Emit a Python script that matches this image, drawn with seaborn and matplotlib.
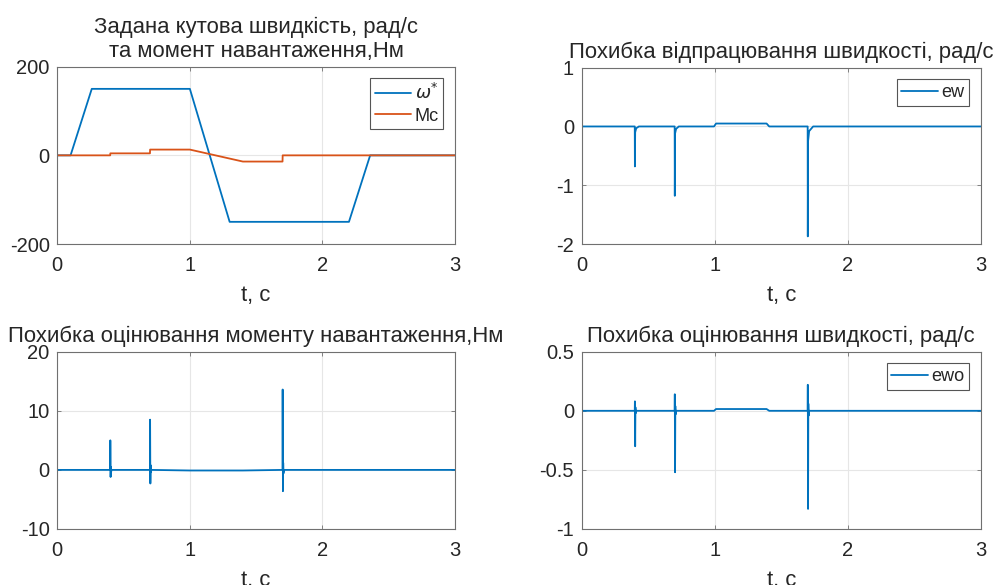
import numpy as np
import pandas as pd
import seaborn as sns
import matplotlib
matplotlib.use("Agg")
import matplotlib.pyplot as plt

# ---------------- data ----------------
# reference speed omega*
t_w = [0.0, 0.10, 0.26, 1.00, 1.30, 2.20, 2.36, 3.0]
w_ref = [0.0, 0.0, 150.0, 150.0, -150.0, -150.0, 0.0, 0.0]

# load torque Mc
t_mc = [0.0, 0.399, 0.40, 0.699, 0.70, 1.00, 1.40, 1.699, 1.70, 3.0]
mc = [0.0, 0.0, 4.5, 4.5, 13.0, 13.0, -14.0, -14.0, 0.0, 0.0]

# speed tracking error ew
t_ew = [0.0, 0.399, 0.400, 0.402, 0.41, 0.43, 0.699, 0.700, 0.702, 0.71, 0.73,
        0.995, 1.01, 1.39, 1.41, 1.699, 1.700, 1.702, 1.71, 1.74, 3.0]
ew = [0.0, 0.0, -0.68, -0.10, -0.03, 0.0, 0.0, -1.18, -0.12, -0.04, 0.0,
      0.0, 0.05, 0.05, 0.0, 0.0, -1.87, -0.25, -0.08, 0.0, 0.0]

# load torque estimation error
t_em = [0.0, 0.399, 0.400, 0.402, 0.404, 0.406, 0.41, 0.699, 0.700, 0.702, 0.704,
        0.706, 0.71, 1.0, 1.4, 1.699, 1.700, 1.702, 1.704, 1.706, 1.71, 3.0]
em = [0.0, 0.0, 5.0, -1.2, 0.5, -0.3, 0.0, 0.0, 8.5, -2.3, 0.8, -0.4, 0.0,
      -0.1, -0.1, 0.0, 13.6, -3.6, 1.2, -0.6, 0.0, 0.0]

# speed estimation error ewo
t_ewo = [0.0, 0.399, 0.400, 0.402, 0.404, 0.406, 0.41, 0.699, 0.700, 0.702, 0.704,
         0.706, 0.71, 0.995, 1.01, 1.39, 1.41, 1.699, 1.700, 1.702, 1.704,
         1.706, 1.71, 3.0]
ewo = [0.0, 0.0, 0.08, -0.30, 0.03, -0.02, 0.0, 0.0, 0.14, -0.52, 0.04, -0.03,
       0.0, 0.0, 0.015, 0.015, 0.0, 0.0, 0.22, -0.83, 0.06, -0.04, 0.0, 0.0]

titles = ["Задана кутова швидкість, рад/с\nта момент навантаження,Нм",
          "Похибка відпрацювання швидкості, рад/с",
          "Похибка оцінювання моменту навантаження,Нм",
          "Похибка оцінювання швидкості, рад/с"]
xlabel = "t, с"

# ---------------- style ----------------
sns.set_theme(style="white")
plt.rcParams['font.family'] = ['Liberation Sans', 'DejaVu Sans']
plt.rcParams['mathtext.fontset'] = 'dejavusans'

BLUE = "#0072BD"
ORANGE = "#D95319"
TXT = "#262626"
EDGE = "#707070"
FS = 14.5

fig = plt.figure(figsize=(9.93, 5.85), dpi=100)
W, H = 993.0, 585.0

def make_ax(x0, x1, y0, y1):
    return fig.add_axes([x0 / W, 1 - y1 / H, (x1 - x0) / W, (y1 - y0) / H])

ax1 = make_ax(57.3, 455.0, 66.7, 244.0)
ax2 = make_ax(581.7, 980.7, 67.7, 244.0)
ax3 = make_ax(57.3, 455.0, 351.7, 529.0)
ax4 = make_ax(581.7, 980.7, 351.7, 529.0)

def style(ax, ylim, yticks, title):
    ax.set_xlim(0, 3)
    ax.set_ylim(*ylim)
    ax.set_xticks([0, 1, 2, 3])
    ax.set_xticklabels(["0", "1", "2", "3"])
    ax.set_yticks(yticks)
    ax.set_yticklabels([("%g" % v) for v in yticks])
    ax.grid(True, color="#e6e6e6", linewidth=0.8)
    ax.set_axisbelow(True)
    for s in ax.spines.values():
        s.set_color(EDGE)
        s.set_linewidth(0.8)
        s.set_visible(True)
    ax.tick_params(axis="both", direction="in", length=3, width=0.6,
                   color=EDGE, labelsize=FS, labelcolor=TXT,
                   top=True, right=True, bottom=True, left=True)
    ax.tick_params(axis="x", pad=8.5)
    ax.tick_params(axis="y", pad=5.5)
    ax.set_xlabel(xlabel, fontsize=FS * 1.1, color=TXT, labelpad=7)
    ax.set_ylabel("")
    ax.set_title(title, fontsize=FS * 1.1, color=TXT, pad=7, linespacing=1.2)

def leg(ax):
    lg = ax.legend(loc="upper right", fontsize=FS * 0.9, frameon=True, fancybox=False,
                   framealpha=1, edgecolor="#555555", borderpad=0.25,
                   handlelength=2.0, handletextpad=0.2, labelspacing=0.25,
                   borderaxespad=0.65)
    lg.get_frame().set_linewidth(0.8)
    for t in lg.get_texts():
        t.set_color(TXT)

d1 = pd.DataFrame({"t": t_w, "v": w_ref})
d1b = pd.DataFrame({"t": t_mc, "v": mc})
sns.lineplot(data=d1, x="t", y="v", ax=ax1, color=BLUE, lw=1.3,
             estimator=None, sort=False, label=r"$\omega^{*}$")
sns.lineplot(data=d1b, x="t", y="v", ax=ax1, color=ORANGE, lw=1.3,
             estimator=None, sort=False, label="Mc")
style(ax1, (-200, 200), [-200, 0, 200], titles[0])
leg(ax1)

d2 = pd.DataFrame({"t": t_ew, "v": ew})
sns.lineplot(data=d2, x="t", y="v", ax=ax2, color=BLUE, lw=1.3,
             estimator=None, sort=False, label="ew")
style(ax2, (-2, 1), [-2, -1, 0, 1], titles[1])
leg(ax2)

d3 = pd.DataFrame({"t": t_em, "v": em})
sns.lineplot(data=d3, x="t", y="v", ax=ax3, color=BLUE, lw=1.3,
             estimator=None, sort=False, legend=False)
style(ax3, (-10, 20), [-10, 0, 10, 20], titles[2])

d4 = pd.DataFrame({"t": t_ewo, "v": ewo})
sns.lineplot(data=d4, x="t", y="v", ax=ax4, color=BLUE, lw=1.3,
             estimator=None, sort=False, label="ewo")
style(ax4, (-1, 0.5), [-1, -0.5, 0, 0.5], titles[3])
leg(ax4)

fig.savefig("out.png", dpi=100)
